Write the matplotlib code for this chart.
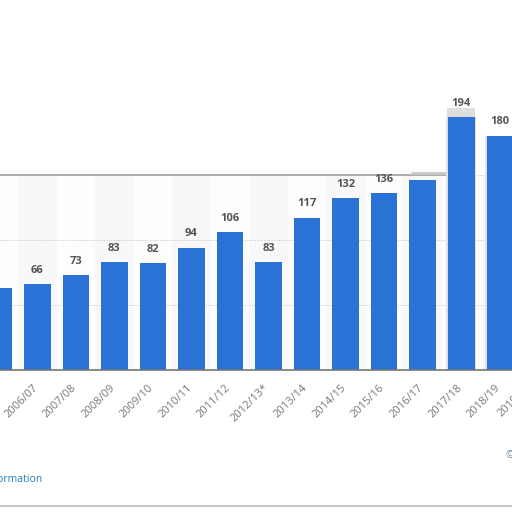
import matplotlib
matplotlib.use('Agg')
import matplotlib.pyplot as plt
from matplotlib.lines import Line2D
from matplotlib.transforms import ScaledTranslation

seasons = ['2005/06', '2006/07', '2007/08', '2008/09', '2009/10', '2010/11', '2011/12',
           '2012/13*', '2013/14', '2014/15', '2015/16', '2016/17', '2017/18', '2018/19', '2019/20']
values = [63, 66, 73, 83, 82, 94, 106, 83, 117, 132, 136, 146, 194, 180]
# the 2016/17 label is not visible in the picture
value_labels = ['63', '66', '73', '83', '82', '94', '106', '83', '117', '132', '136', '', '194', '180']

plt.rcParams['font.family'] = ['Open Sans', 'DejaVu Sans']

W = 512.0
fig = plt.figure(figsize=(5.12, 5.12), dpi=100)
ax = fig.add_axes([0, (512 - 370) / W, 1, 370 / W])

# faint alternating column bands behind the bars
for i in range(len(seasons)):
    ax.bar(i, 150, width=1, color='#f8f8f8' if i % 2 else '#fdfdfd', zorder=0)

ax.hlines([50, 100], 0, 14, colors='#c4c4c4', linewidth=0.7, linestyles=(0, (1, 1.5)), zorder=1)
ax.hlines(150, 0, 11.6, colors='#ababab', linewidth=1.4, zorder=1)
ax.hlines(150, 11.6, 14, colors='#c4c4c4', linewidth=0.7, linestyles=(0, (1, 1.5)), zorder=1)
ax.hlines(151.5, 10.7, 11.6, colors='#c8c8c8', linewidth=2, zorder=1)

# grey smudge around the two tallest bars
ax.bar([12, 13], values[12:], width=0.78, color='#e2e2e2', zorder=1)
ax.bar(12, values[12] + 7, width=0.72, color='#dedede', zorder=1)

bars = ax.bar(range(len(values)), values, width=0.69, color='#2a72d5', zorder=2)

for i, b in enumerate(bars):
    ax.annotate(value_labels[i], (b.get_x() + b.get_width() / 2, b.get_height()),
                xytext=(0, 9.9), textcoords='offset points', ha='center', va='center',
                fontsize=8, fontweight='bold', color='#555555', zorder=3)

for side in ['top', 'right', 'left']:
    ax.spines[side].set_visible(False)
ax.spines['bottom'].set_color('#777777')
ax.spines['bottom'].set_linewidth(1.2)
ax.set_yticks([])
ax.set_xticks(range(len(seasons) - 1))
ax.set_xticklabels(seasons[:-1], rotation=45, ha='right', rotation_mode='anchor',
                   fontsize=8, color='#777777')
ax.tick_params(axis='x', length=0, pad=8)

# tick labels end a little left of the bar centre
shift = ScaledTranslation(-5 / 100, -1 / 100, fig.dpi_scale_trans)
for lab in ax.get_xticklabels():
    lab.set_transform(lab.get_transform() + shift)

# pixel layout of the picture: bar spacing 38.55 px, 1.302 px per unit
# set after the ticks, set_xticks widens the limits
ax.set_xlim(1.3 / 38.55, 513.3 / 38.55)
ax.set_ylim(0, 370 / 1.302)

# last season sits past the right edge, a tick there would not be drawn at all
ax.annotate(seasons[-1], (len(seasons) - 1, 0), xytext=(-9.5, -8), textcoords='offset points',
            rotation=45, ha='right', va='top', rotation_mode='anchor',
            fontsize=8, color='#777777', annotation_clip=False)

fig.text(42 / W, 1 - 479 / W, 'Additional Information', ha='right', va='center',
         fontsize=7.5, color='#1f7fb5')
fig.text(505 / W, 1 - 456 / W, '©', ha='left', va='center', fontsize=7.5, color='#5b8fb0')

fig.add_artist(Line2D([0, 1], [1 - 506 / W] * 2, color='#c6c6c6', linewidth=1.5))

fig.savefig('out.png', dpi=100)
